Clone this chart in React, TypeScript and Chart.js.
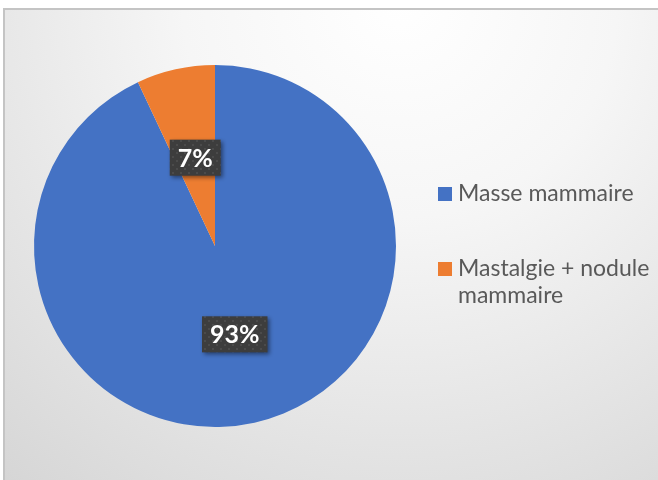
import React, { useEffect, useRef } from "react";
import { Chart, registerables } from "chart.js";

Chart.register(...registerables);

const categories: string[] = ["Masse mammaire", "Mastalgie + nodule mammaire"];
const values: number[] = [93, 7];
const percentLabels: string[] = ["93%", "7%"];
const colors: string[] = ["#4472C4", "#ED7D31"];

const FONT = "Lato, 'Open Sans', sans-serif";

function makePattern(ctx: CanvasRenderingContext2D) {
  const c = document.createElement("canvas");
  c.width = 8;
  c.height = 8;
  const p = c.getContext("2d")!;
  p.fillStyle = "#3d3d3d";
  p.fillRect(0, 0, 8, 8);
  p.fillStyle = "#4b4b4b";
  p.fillRect(0, 0, 2, 2);
  p.fillRect(4, 4, 2, 2);
  return ctx.createPattern(c, "repeat");
}

const backgroundPlugin = {
  id: "bgFrame",
  beforeDraw(chart: any) {
    const ctx = chart.ctx as CanvasRenderingContext2D;
    const w = chart.width;
    const h = chart.height;
    ctx.save();
    const g = ctx.createRadialGradient(400, 0, 0, 400, 0, 620);
    g.addColorStop(0, "#ffffff");
    g.addColorStop(0.35, "#f6f6f6");
    g.addColorStop(1, "#d6d6d6");
    ctx.fillStyle = g;
    ctx.fillRect(3, 8, w, h);
    ctx.strokeStyle = "#c4c4c4";
    ctx.lineWidth = 2;
    ctx.beginPath();
    ctx.moveTo(4, h + 5);
    ctx.lineTo(4, 9);
    ctx.lineTo(w + 5, 9);
    ctx.stroke();
    ctx.restore();
  },
};

const labelPlugin = {
  id: "pctLabels",
  afterDatasetsDraw(chart: any) {
    const ctx = chart.ctx as CanvasRenderingContext2D;
    const meta = chart.getDatasetMeta(0);
    const pattern = makePattern(ctx);
    meta.data.forEach((arc: any, i: number) => {
      const { x, y, startAngle, endAngle, outerRadius } = arc.getProps(
        ["x", "y", "startAngle", "endAngle", "outerRadius"],
        true
      );
      const mid = (startAngle + endAngle) / 2;
      const r = outerRadius * 0.5;
      const cx = x + Math.cos(mid) * r;
      const cy = y + Math.sin(mid) * r;
      const text = percentLabels[i];
      ctx.save();
      ctx.font = `bold 25px ${FONT}`;
      const tw = ctx.measureText(text).width;
      const bw = tw + 16;
      const bh = 36;
      ctx.shadowColor = "rgba(0,0,0,0.45)";
      ctx.shadowBlur = 4;
      ctx.shadowOffsetX = 2;
      ctx.shadowOffsetY = 2;
      ctx.fillStyle = pattern || "#404040";
      ctx.fillRect(cx - bw / 2, cy - bh / 2, bw, bh);
      ctx.shadowColor = "transparent";
      ctx.fillStyle = "#ffffff";
      ctx.textAlign = "center";
      ctx.textBaseline = "middle";
      ctx.fillText(text, cx, cy + 1);
      ctx.restore();
    });
  },
};

function wrap(ctx: CanvasRenderingContext2D, text: string, maxW: number) {
  const words = text.split(" ");
  const lines: string[] = [];
  let cur = "";
  for (const w of words) {
    const t = cur ? cur + " " + w : w;
    if (ctx.measureText(t).width > maxW && cur) {
      lines.push(cur);
      cur = w;
    } else cur = t;
  }
  if (cur) lines.push(cur);
  return lines;
}

const legendPlugin = {
  id: "sideLegend",
  afterDraw(chart: any) {
    const ctx = chart.ctx as CanvasRenderingContext2D;
    const labels: string[] = chart.data.labels;
    const bg: string[] = chart.data.datasets[0].backgroundColor;
    ctx.save();
    ctx.font = `23px ${FONT}`;
    ctx.textBaseline = "alphabetic";
    ctx.textAlign = "left";
    labels.forEach((lab, i) => {
      const baseY = 201 + i * 75;
      ctx.fillStyle = bg[i];
      ctx.fillRect(438, baseY - 14, 14, 14);
      ctx.fillStyle = "#595959";
      const lines = wrap(ctx, lab, 196);
      lines.forEach((ln, j) => {
        ctx.fillText(ln, 458, baseY + j * 27);
      });
    });
    ctx.restore();
  },
};

export default function App() {
  const ref = useRef<HTMLCanvasElement>(null);
  useEffect(() => {
    document.body.style.margin = "0";
    const chart = new Chart(ref.current!, {
      type: "pie",
      data: {
        labels: categories,
        datasets: [
          {
            data: values,
            backgroundColor: colors,
            borderWidth: 0,
          },
        ],
      },
      options: {
        animation: false,
        responsive: false,
        layout: { padding: { left: 34, right: 262, top: 65, bottom: 53 } },
        plugins: {
          legend: { display: false },
          tooltip: { enabled: false },
        },
      },
      plugins: [backgroundPlugin, labelPlugin, legendPlugin],
    });
    return () => chart.destroy();
  }, []);
  return (
    <div style={{ width: 658, height: 480 }}>
      <canvas ref={ref} width={658} height={480} style={{ display: "block" }} />
    </div>
  );
}
